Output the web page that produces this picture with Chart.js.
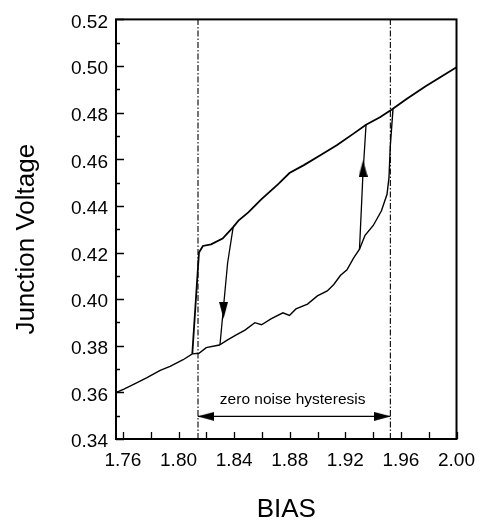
<!DOCTYPE html>
<html><head><meta charset="utf-8">
<script src="https://cdn.jsdelivr.net/npm/chart.js@4"></script>
<style>html,body{margin:0;padding:0;background:#fff}#wrap{width:485px;height:527px}</style>
</head><body><div id="wrap"><canvas id="c" width="485" height="527"></canvas></div>
<script>
// ---- data ----
const xTicks = [1.76,1.78,1.80,1.82,1.84,1.86,1.88,1.90,1.92,1.94,1.96,1.98,2.00];
const xTickLabels = ['1.76','','1.80','','1.84','','1.88','','1.92','','1.96','','2.00'];
const yTicks = [0.34,0.35,0.36,0.37,0.38,0.39,0.40,0.41,0.42,0.43,0.44,0.45,0.46,0.47,0.48,0.49,0.50,0.51,0.52];
const yTickLabels = ['0.34','','0.36','','0.38','','0.40','','0.42','','0.44','','0.46','','0.48','','0.50','','0.52'];
const xTitle = 'BIAS';
const yTitle = 'Junction Voltage';

// lower branch (rises into the upper branch at the right edge of the loop)
const lowerX = [1.7548,1.7607,1.7702,1.7773,1.7868,1.7939,1.8033,1.8099,1.8147,1.8199,1.8294,1.8353,1.8412,1.8478,1.8549,1.8597,1.8668,1.8751,1.8798,1.8845,1.8928,1.8999,1.9070,1.9117,1.9164,1.9212,1.9259,1.9302,1.9342,1.9401,1.9460,1.9500,1.9514,1.9524,1.9543];
const lowerY = [0.3599,0.3614,0.3642,0.3663,0.3694,0.3712,0.3740,0.3765,0.3768,0.3792,0.3803,0.3825,0.3846,0.3867,0.3899,0.3890,0.3916,0.3941,0.3930,0.3958,0.3979,0.4014,0.4035,0.4063,0.4101,0.4126,0.4176,0.4214,0.4274,0.4316,0.4379,0.4450,0.4520,0.4661,0.4815];
// upper branch (drops to the lower branch at the left edge of the loop)
const upperX = [1.8099,1.8147,1.8175,1.8234,1.8317,1.8393,1.8431,1.8502,1.8597,1.8715,1.8798,1.8905,1.9023,1.9141,1.9259,1.9349,1.9449,1.9532,1.9638,1.9775,2.0000];
const upperY = [0.3765,0.4200,0.4228,0.4235,0.4260,0.4309,0.4337,0.4372,0.4429,0.4492,0.4541,0.4576,0.4618,0.4661,0.4710,0.4748,0.4780,0.4812,0.4857,0.4912,0.4995];
// noisy switching transitions
const downX = [1.8393,1.8353,1.8298];
const downY = [0.4309,0.4155,0.3803];
const upX = [1.9302,1.9326,1.9349];
const upY = [0.4214,0.4527,0.4748];
// arrow heads (centres) and their directions in degrees
const arrowX = [1.8324,1.9328,1.8197,1.9467];
const arrowY = [0.3952,0.4561,0.3497,0.3497];
const arrowRot = [180,0,270,90];
// zero-noise hysteresis limits
const guideX = [1.814,1.9524];
const hystY = 0.3497;
const noteText = 'zero noise hysteresis';
const noteX = 1.8821;
const noteY = 0.3552;

const X_MIN = 1.755, X_MAX = 2.0, Y_MIN = 0.34, Y_MAX = 0.52;

// ---- chart ----
const FONT = '"Liberation Sans", Arial, Helvetica, sans-serif';
Chart.defaults.font.family = FONT;
Chart.defaults.color = '#000';

const pts = (xs, ys) => xs.map((x, i) => ({x, y: ys[i]}));

function makeHead(w, h) {
  const c = document.createElement('canvas');
  c.width = w; c.height = h;
  const g = c.getContext('2d');
  g.fillStyle = '#000';
  g.beginPath(); g.moveTo(w / 2, 0); g.lineTo(w, h); g.lineTo(0, h); g.closePath(); g.fill();
  return c;
}
const head = makeHead(9, 17);

const lineDs = (data, w) => ({type: 'scatter', data, showLine: true, borderColor: '#000', borderWidth: w, pointRadius: 0, fill: false, tension: 0});

const datasets = [
  lineDs(pts(lowerX, lowerY), 1.4),
  lineDs(pts(upperX, upperY), 1.8),
  lineDs(pts(downX, downY), 1.3),
  lineDs(pts(upX, upY), 1.3),
  Object.assign(lineDs(pts([guideX[0], guideX[0]], [Y_MIN, Y_MAX]), 1.1), {borderDash: [6, 2, 1.5, 2]}),
  Object.assign(lineDs(pts([guideX[1], guideX[1]], [Y_MIN, Y_MAX]), 1.1), {borderDash: [6, 2, 1.5, 2]}),
  lineDs(pts(guideX, [hystY, hystY]), 1.3),
  {type: 'scatter', data: pts(arrowX, arrowY), showLine: false, pointStyle: head, pointRotation: arrowRot, pointRadius: 8, backgroundColor: '#000', borderColor: '#000'}
];

const decor = {
  id: 'decor',
  afterDatasetsDraw(chart) {
    const {ctx, chartArea: a, scales: {x: xs, y: ys}} = chart;
    ctx.save();
    ctx.strokeStyle = '#000';
    ctx.lineWidth = 1.3;
    ctx.beginPath();
    xs.ticks.forEach(t => { const p = Math.round(xs.getPixelForValue(t.value)) + 0.5; ctx.moveTo(p, a.bottom); ctx.lineTo(p, a.bottom - 7); });
    ys.ticks.forEach((t, i) => { const p = Math.round(ys.getPixelForValue(t.value)) + 0.5; const L = yTickLabels[i] ? 8 : 4; ctx.moveTo(a.left, p); ctx.lineTo(a.left + L, p); });
    ctx.stroke();
    ctx.lineWidth = 2;
    ctx.strokeRect(a.left, a.top, a.right - a.left, a.bottom - a.top);
    // annotation
    ctx.fillStyle = '#000';
    ctx.font = '15.5px ' + FONT;
    ctx.textAlign = 'center';
    ctx.textBaseline = 'alphabetic';
    ctx.fillText(noteText, xs.getPixelForValue(noteX), ys.getPixelForValue(noteY));
    // y title
    ctx.translate(27, (a.top + a.bottom) / 2 + 10);
    ctx.rotate(-Math.PI / 2);
    ctx.font = '26px ' + FONT;
    ctx.textBaseline = 'middle';
    ctx.fillText(yTitle, 0, 0);
    ctx.restore();
  }
};

new Chart(document.getElementById('c'), {
  type: 'scatter',
  data: {datasets},
  options: {
    responsive: false,
    animation: false,
    devicePixelRatio: 1,
    layout: {padding: {top: 12, right: 24, left: 0, bottom: 0}},
    plugins: {legend: {display: false}, tooltip: {enabled: false}},
    scales: {
      x: {
        type: 'linear', min: X_MIN, max: X_MAX,
        afterBuildTicks: s => { s.ticks = xTicks.map(v => ({value: v})); },
        afterFit: s => { s.height = 88; },
        grid: {display: false, drawTicks: false},
        border: {display: false},
        ticks: {autoSkip: false, maxRotation: 0, padding: 10, font: {size: 19}, color: '#000',
                callback: (v, i) => xTickLabels[i]},
        title: {display: true, text: xTitle, font: {size: 26}, color: '#000', padding: {top: 0, bottom: 2}}
      },
      y: {
        type: 'linear', min: Y_MIN, max: Y_MAX,
        afterBuildTicks: s => { s.ticks = yTicks.map(v => ({value: v})); },
        afterFit: s => { s.width = 116; },
        grid: {display: false, drawTicks: false},
        border: {display: false},
        ticks: {autoSkip: false, padding: 8, labelOffset: 3, font: {size: 19}, color: '#000',
                callback: (v, i) => yTickLabels[i]}
      }
    }
  },
  plugins: [decor]
});
</script></body></html>
